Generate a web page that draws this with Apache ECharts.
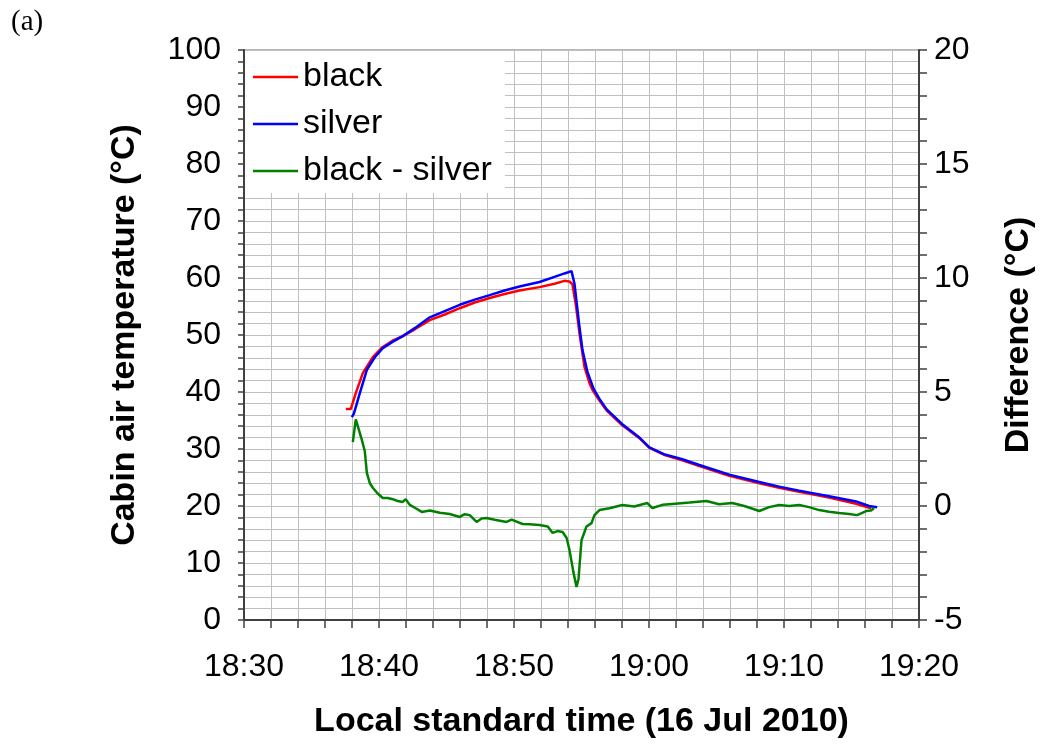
<!DOCTYPE html>
<html>
<head>
<meta charset="utf-8">
<script src="https://cdn.jsdelivr.net/npm/echarts@6/dist/echarts.min.js"></script>
<style>
  html, body { margin: 0; padding: 0; background: #fff; }
  #chart { width: 1044px; height: 746px; }
</style>
</head>
<body>
<div id="chart"></div>
<script>
// time axis: minutes after 18:30 (16 Jul 2010)
const START_MIN = 18 * 60 + 30;

const blackMin = [7.54, 7.91, 8.28, 8.8, 9.54, 10.28, 11.0, 11.76, 12.65, 13.76, 14.87, 15.98, 17.09, 18.2, 19.3, 20.41, 21.89, 23.0, 23.74, 24.1, 24.33, 24.6, 24.85, 25.22, 25.6, 25.81, 26.33, 26.85, 28.0, 29.29, 30.03, 31.1, 32.47, 33.73, 35.95, 38.17, 39.64, 41.12, 43.34, 45.34, 46.45];
const blackTemp = [37.0, 37.0, 39.8, 43.3, 46.1, 47.9, 49.0, 49.8, 51.0, 52.6, 53.6, 54.7, 55.7, 56.5, 57.2, 57.8, 58.4, 59.0, 59.5, 59.4, 58.9, 55.0, 50.3, 44.4, 41.5, 40.4, 38.5, 36.8, 34.2, 31.9, 30.2, 29.0, 28.0, 27.0, 25.3, 24.0, 23.2, 22.5, 21.5, 20.4, 19.6];

const silverMin = [7.99, 8.14, 8.58, 9.1, 9.69, 10.28, 11.0, 11.76, 12.65, 13.76, 14.87, 15.98, 17.09, 18.2, 19.3, 20.41, 21.89, 23.0, 23.74, 24.26, 24.48, 24.85, 25.07, 25.44, 25.89, 26.33, 26.85, 28.0, 29.29, 30.03, 31.1, 32.47, 33.73, 35.95, 38.17, 39.64, 41.12, 43.34, 45.34, 46.3, 46.9];
const silverTemp = [35.6, 36.2, 39.8, 43.9, 46.1, 47.7, 48.8, 49.8, 51.2, 53.1, 54.2, 55.3, 56.2, 57.0, 57.8, 58.5, 59.3, 60.2, 60.8, 61.2, 59.0, 51.4, 47.4, 43.5, 40.6, 38.8, 37.0, 34.4, 32.0, 30.3, 29.1, 28.2, 27.2, 25.5, 24.2, 23.4, 22.7, 21.7, 20.8, 20.0, 19.8];

const diffMin = [8.06, 8.28, 8.43, 8.73, 8.95, 9.1, 9.32, 9.54, 9.9, 10.28, 10.65, 11.02, 11.39, 11.76, 11.98, 12.28, 12.72, 13.17, 13.76, 14.5, 15.24, 15.98, 16.35, 16.72, 17.23, 17.6, 17.97, 18.57, 19.45, 19.82, 20.64, 21.15, 21.89, 22.5, 22.86, 23.22, 23.6, 23.9, 24.11, 24.4, 24.63, 24.78, 25.0, 25.37, 25.74, 25.96, 26.33, 27.07, 28.03, 28.9, 29.88, 30.25, 31.0, 31.73, 33.0, 34.25, 35.2, 36.17, 37.06, 38.17, 38.9, 39.64, 40.38, 41.12, 41.86, 42.6, 43.34, 44.08, 44.82, 45.41, 45.8, 46.08, 46.45, 46.67];
const diffValue = [2.8, 3.8, 3.5, 2.9, 2.4, 1.45, 1.0, 0.8, 0.55, 0.35, 0.35, 0.3, 0.22, 0.18, 0.3, 0.05, -0.1, -0.26, -0.2, -0.3, -0.35, -0.48, -0.36, -0.4, -0.7, -0.55, -0.53, -0.6, -0.7, -0.6, -0.79, -0.8, -0.83, -0.9, -1.18, -1.1, -1.14, -1.4, -1.93, -2.9, -3.55, -3.2, -1.5, -0.9, -0.75, -0.4, -0.18, -0.1, 0.04, -0.02, 0.13, -0.09, 0.05, 0.09, 0.15, 0.22, 0.08, 0.13, 0.0, -0.22, -0.05, 0.04, 0.0, 0.04, -0.05, -0.18, -0.25, -0.31, -0.35, -0.4, -0.3, -0.22, -0.2, -0.09];

function pairs(mins, vals) {
  return mins.map((m, i) => [START_MIN + m, vals[i]]);
}

function clock(v) {
  if (v % 10 !== 0) return '';
  const h = Math.floor(v / 60);
  const m = v % 60;
  return h + ':' + (m < 10 ? '0' + m : m);
}

const font = 'Liberation Sans, Arial, sans-serif';
const axisCol = '#404040';
const gridCol = '#c0c0c0';

const chart = echarts.init(document.getElementById('chart'), null, { renderer: 'canvas' });

chart.setOption({
  animation: false,
  backgroundColor: '#fff',
  textStyle: { fontFamily: font },
  graphic: [
    {
      type: 'text', left: 11, top: 8,
      style: { text: '(a)', fontSize: 29, fontFamily: 'Liberation Serif', fill: '#000' }
    }
  ],
  grid: {
    left: 244, right: 124, top: 50, bottom: 126,
    show: true, borderColor: '#a0a0a0', borderWidth: 1.5, backgroundColor: 'transparent'
  },
  legend: {
    left: 245, top: 51,
    orient: 'vertical',
    backgroundColor: '#fff',
    padding: [9, 13, 5, 8],
    icon: 'rect',
    itemWidth: 45, itemHeight: 2.5, itemGap: 13,
    textStyle: { fontSize: 34, lineHeight: 34, color: '#000', fontFamily: font },
    data: ['black', 'silver', 'black - silver']
  },
  xAxis: {
    type: 'value',
    min: START_MIN, max: START_MIN + 50, interval: 2,
    axisLine: { lineStyle: { color: axisCol, width: 2 } },
    axisTick: { length: 8, lineStyle: { color: axisCol, width: 1.5 } },
    axisLabel: { formatter: clock, fontSize: 32, color: '#000', margin: 31, showMinLabel: true, showMaxLabel: true },
    splitLine: { show: true, lineStyle: { color: gridCol, width: 1 } },
    name: 'Local standard time (16 Jul 2010)',
    nameLocation: 'middle', nameGap: 85,
    nameTextStyle: { fontSize: 34, fontWeight: 'bold', color: '#000' }
  },
  yAxis: [
    {
      type: 'value', min: 0, max: 100, interval: 2,
      axisLine: { show: true, lineStyle: { color: axisCol, width: 2 } },
      axisTick: { show: true, length: 6, lineStyle: { color: axisCol, width: 1.5 } },
      axisLabel: { formatter: v => (v % 10 === 0 ? v : ''), fontSize: 32, color: '#000', margin: 23 },
      splitLine: { show: true, lineStyle: { color: gridCol, width: 1 } },
      name: 'Cabin air temperature (°C)',
      nameLocation: 'middle', nameGap: 102, nameRotate: 90,
      nameTextStyle: { fontSize: 34, fontWeight: 'bold', color: '#000' }
    },
    {
      type: 'value', min: -5, max: 20, interval: 1, position: 'right',
      axisLine: { show: true, lineStyle: { color: axisCol, width: 2 } },
      axisTick: { show: true, length: 8, lineStyle: { color: axisCol, width: 1.5 } },
      axisLabel: { formatter: v => (v % 5 === 0 ? v : ''), fontSize: 32, color: '#000', margin: 15 },
      splitLine: { show: false },
      name: 'Difference (°C)',
      nameLocation: 'middle', nameGap: 83, nameRotate: 90,
      nameTextStyle: { fontSize: 34, fontWeight: 'bold', color: '#000' }
    }
  ],
  series: [
    {
      name: 'black', type: 'line', yAxisIndex: 0, symbol: 'none',
      data: pairs(blackMin, blackTemp),
      lineStyle: { color: '#ff0000', width: 2.5 }, itemStyle: { color: '#ff0000' }
    },
    {
      name: 'silver', type: 'line', yAxisIndex: 0, symbol: 'none',
      data: pairs(silverMin, silverTemp),
      lineStyle: { color: '#0000ff', width: 2.5 }, itemStyle: { color: '#0000ff' }
    },
    {
      name: 'black - silver', type: 'line', yAxisIndex: 1, symbol: 'none',
      data: pairs(diffMin, diffValue),
      lineStyle: { color: '#008000', width: 2.5 }, itemStyle: { color: '#008000' }
    }
  ]
});
</script>
</body>
</html>
